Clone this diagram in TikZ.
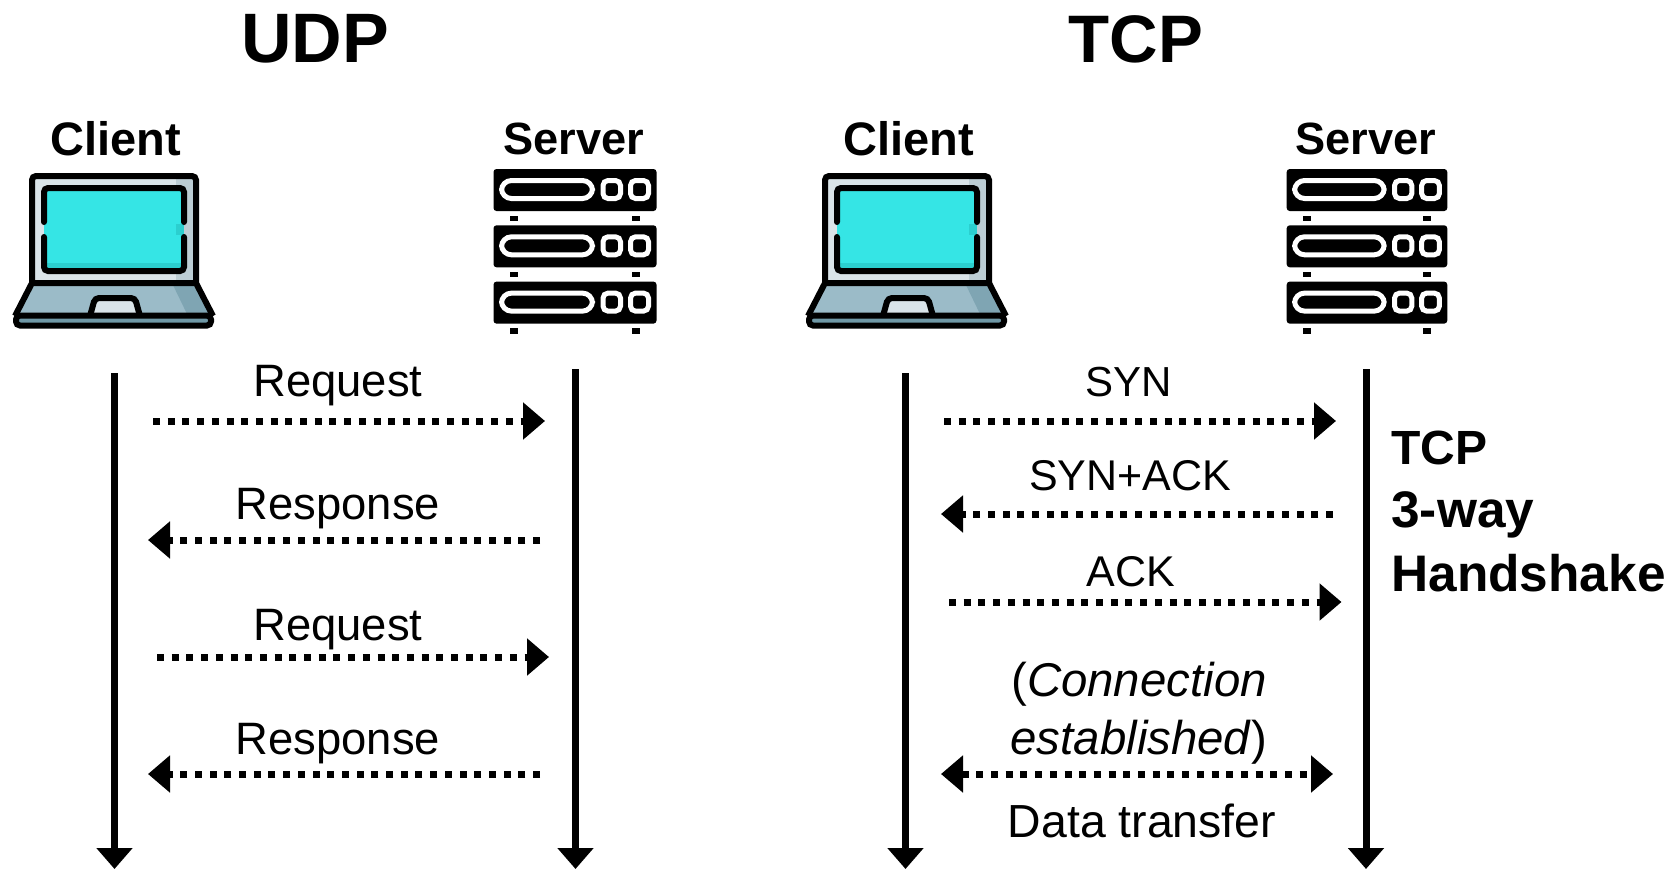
\documentclass[tikz,border=0pt]{standalone}
\usepackage{fontspec}
\setmainfont{Liberation Sans}
\usepackage{tikz}
\usetikzlibrary{arrows.meta}

\definecolor{screencyan}{HTML}{35E5E5}
\definecolor{screenshade}{HTML}{2BCFCF}
\definecolor{bezel}{HTML}{DAE4E9}
\definecolor{bezelshade}{HTML}{BCCDD4}
\definecolor{deck}{HTML}{9BBBC8}
\definecolor{deckshade}{HTML}{7FA5B3}
\definecolor{hinge}{HTML}{6F98A6}

\tikzset{
  title/.style={font=\bfseries\fontsize{#1}{35}\selectfont,anchor=base},
  host/.style={font=\bfseries\fontsize{#1}{24}\selectfont,anchor=base},
  msg/.style={font=\fontsize{#1}{24}\selectfont,anchor=base},
  note/.style={font=\bfseries\fontsize{#1}{26}\selectfont,anchor=base west,inner sep=0pt},
  life/.style={line width=3.5pt,-{Triangle[length=10.5pt,width=17.5pt]}},
  flow/.style={line width=3.5pt,dash pattern=on 3.5pt off 3.85pt,-{Triangle[length=11pt,width=18pt]}},
  flowboth/.style={line width=3.5pt,dash pattern=on 3.5pt off 3.85pt,{Triangle[length=11pt,width=18pt]}-{Triangle[length=11pt,width=18pt]}},
  laptop/.pic={
    \fill[bezel] (32,176) rectangle (196,283);
    \fill[bezelshade] (176,176) rectangle (196,283);
    \fill[screencyan] (44,188) rectangle (184,271);
    \fill[screenshade] (44,263) rectangle (184,271);
    \fill[screenshade] (176,224) rectangle (184,235);
    \draw[line width=3pt,rounded corners=2pt] (32,283) -- (32,176) -- (196,176) -- (196,283);
    \draw[line width=3pt,line cap=round,rounded corners=2pt] (44,222) -- (44,188) -- (184,188) -- (184,222);
    \draw[line width=3pt,line cap=round,rounded corners=2pt] (44,237) -- (44,271) -- (184,271) -- (184,237);
    \fill[deck] (32,283) -- (196,283) -- (213,316) -- (15,316) -- cycle;
    \fill[deckshade] (172,283) -- (196,283) -- (213,316) -- (188,316) -- cycle;
    \filldraw[fill=bezel,line width=3pt,rounded corners=2pt] (90,316) -- (95,298) -- (135,298) -- (140,316);
    \draw[line width=3pt,line join=round] (15,316) -- (32,283) -- (196,283) -- (213,316);
    \filldraw[fill=hinge,line width=3pt,rounded corners=2pt] (16,315.5) rectangle (211,325.5);
  },
  rackunit/.pic={
    \fill[rounded corners=1.5pt] (493.5,169) rectangle (656.5,211);
    \draw[white,line width=2.5pt,rounded corners=5pt] (501.5,180.5) rectangle (592.5,198.5);
    \draw[white,line width=2.5pt,rounded corners=2.5pt] (603,180.5) rectangle (620.5,198.5);
    \draw[white,line width=2.5pt,rounded corners=2.5pt] (630.5,180.5) rectangle (648.5,198.5);
    \fill (510,215.7) rectangle (518,221);
    \fill (632,215.7) rectangle (640,221);
  }
}

\begin{document}
\begin{tikzpicture}[x=0.5pt,y=-0.5pt]
  \useasboundingbox (0,0) rectangle (1676,869);

  \draw (315,62) node[title=35] (udp) {UDP};
  \draw (1136,62) node[title=33.6] (tcp) {TCP};
  \draw (115.5,155) node[host=23.5] (udpclient) {Client};
  \draw (574,154) node[host=22.6] (udpserver) {Server};
  \draw (908.5,155) node[host=23.5] (tcpclient) {Client};
  \draw (1366,154) node[host=22.6] (tcpserver) {Server};

  \pic at (0,0) {laptop};
  \pic at (793,0) {laptop};
  \pic at (0,0) {rackunit};
  \pic at (0,56.3) {rackunit};
  \pic at (0,112.6) {rackunit};
  \pic[xscale=0.985] at (800.6,0) {rackunit};
  \pic[xscale=0.985] at (800.6,56.3) {rackunit};
  \pic[xscale=0.985] at (800.6,112.6) {rackunit};

  \coordinate (ca) at (114.5,373);
  \coordinate (cb) at (114.5,869);
  \coordinate (sa) at (575.5,369);
  \coordinate (sb) at (575.5,869);
  \coordinate (tca) at (905.5,373);
  \coordinate (tcb) at (905.5,869);
  \coordinate (tsa) at (1366,369);
  \coordinate (tsb) at (1366,869);
  \path[life] (ca) edge (cb);
  \path[life] (sa) edge (sb);
  \path[life] (tca) edge (tcb);
  \path[life] (tsa) edge (tsb);

  \draw (338,396) node[msg=22.7] (req1) {Request};
  \draw (338,519) node[msg=22.7] (resp1) {Response};
  \draw (338,640) node[msg=22.7] (req2) {Request};
  \draw (338,754) node[msg=22.7] (resp2) {Response};

  \coordinate (r1a) at (153,421);
  \coordinate (r1b) at (545,421);
  \coordinate (r2a) at (540,540);
  \coordinate (r2b) at (148,540);
  \coordinate (r3a) at (157,657);
  \coordinate (r3b) at (549,657);
  \coordinate (r4a) at (540,774);
  \coordinate (r4b) at (148,774);
  \path[flow] (r1a) edge (r1b);
  \path[flow] (r2a) edge (r2b);
  \path[flow] (r3a) edge (r3b);
  \path[flow] (r4a) edge (r4b);

  \draw (1129,396) node[msg=21] (syn) {SYN};
  \draw (1130,490) node[msg=21.5] (synack) {SYN+ACK};
  \draw (1131,586) node[msg=21.5] (ack) {ACK};
  \draw (1139,696) node[msg=23.7] (conn) {(\textit{Connection}};
  \draw (1139,754) node[msg=23.7] (estab) {\textit{established})};
  \draw (1142,837) node[msg=23.2] (data) {Data transfer};

  \coordinate (t1a) at (944,421);
  \coordinate (t1b) at (1336,421);
  \coordinate (t2a) at (1333,514);
  \coordinate (t2b) at (941,514);
  \coordinate (t3a) at (949,602);
  \coordinate (t3b) at (1341.5,602);
  \coordinate (t4a) at (941,774);
  \coordinate (t4b) at (1333,774);
  \path[flow] (t1a) edge (t1b);
  \path[flow] (t2a) edge (t2b);
  \path[flow] (t3a) edge (t3b);
  \path[flowboth] (t4a) edge (t4b);

  \draw (1391,464) node[note=24] (way1) {TCP};
  \draw (1391,527) node[note=25.7] (way2) {3-way};
  \draw (1391,591) node[note=25.7] (way3) {Handshake};
\end{tikzpicture}
\end{document}
